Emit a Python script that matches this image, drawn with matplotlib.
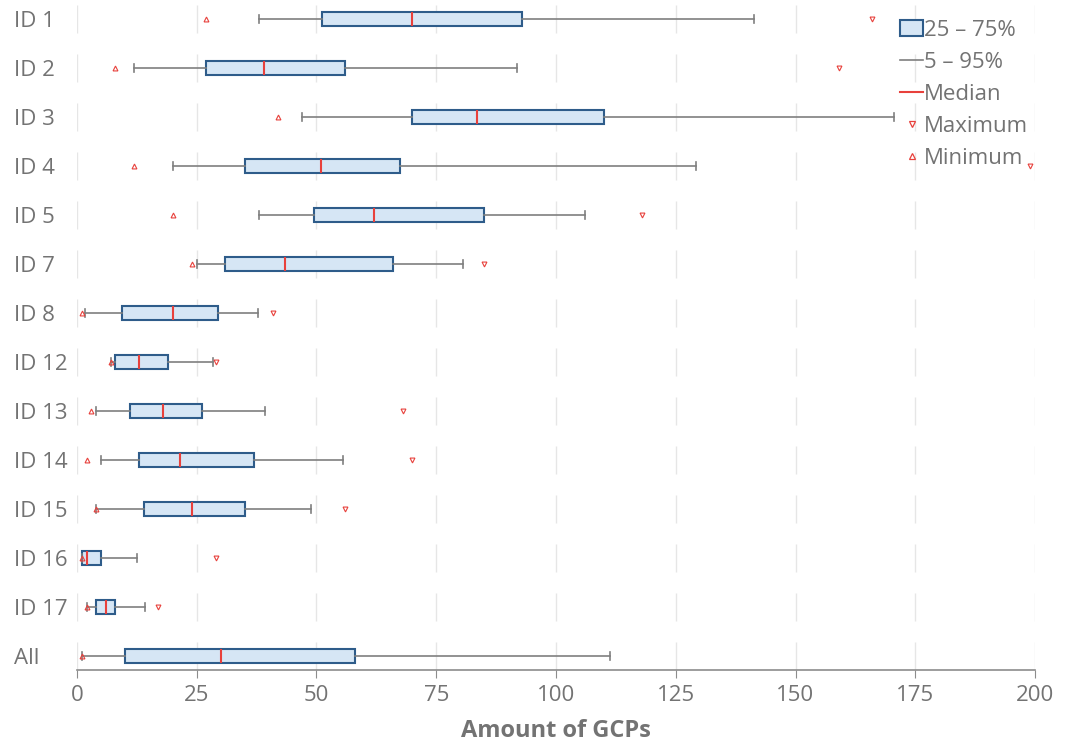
'''GCP counts per ID as horizontal box plots (box 25-75 %, whiskers 5-95 %, min/max markers)'''
import numpy as np
import matplotlib
matplotlib.use('Agg')
import matplotlib.pyplot as plt
from matplotlib.patches import Patch
from matplotlib.lines import Line2D

plt.rcParams['font.family'] = ['Open Sans', 'DejaVu Sans']

# data
labels = ['ID 1', 'ID 2', 'ID 3', 'ID 4', 'ID 5', 'ID 7', 'ID 8', 'ID 12',
          'ID 13', 'ID 14', 'ID 15', 'ID 16', 'ID 17', 'All']
minimum = [27, 8, 42, 12, 20, 24, 1, 7, 3, 2, 4, 1, 2, 1]
p5 = [38, 12, 47, 20, 38, 25, 1.7, 7.2, 4, 5, 4, 1, 2, 1]
q1 = [51.2, 27, 70, 35, 49.5, 31, 9.5, 8, 11, 13, 14, 1, 4, 10]
median = [70, 39, 83.5, 51, 62, 43.5, 20, 13, 18, 21.5, 24, 2, 6, 30]
q3 = [93, 56, 110, 67.5, 85, 66, 29.5, 19, 26, 37, 35, 5, 8, 58]
p95 = [141.3, 91.8, 170.6, 129.2, 106, 80.5, 37.7, 28.4, 39.2, 55.6, 48.8, 12.5, 14.2, 111.3]
# nan = maximum lies outside the plotted range
maximum = [166, 159, np.nan, 199, 118, 85, 41, 29, 68, 70, 56, 29, 17, np.nan]

grey = '#737373'
box_face = '#d6e6f5'
box_edge = '#2e5c8a'
whisk = '#7f7f7f'
red = '#e8413c'

pos = np.arange(len(labels))

stats = []
for i in range(len(labels)):
    stats.append(dict(label=labels[i], med=median[i], q1=q1[i], q3=q3[i],
                      whislo=p5[i], whishi=p95[i], fliers=[]))

fig = plt.figure(figsize=(10.75, 7.43), dpi=100)
ax = fig.add_axes([0.0716, 0.0982, 0.8912, 0.8964])

# grid drawn as short segments per row
xticks = np.arange(0, 201, 25)
for x in xticks:
    ax.vlines(np.full(len(pos), x), pos - 0.29, pos + 0.29, color='#e6e6e6', lw=1, zorder=0)

ax.bxp(stats, positions=pos, orientation='horizontal', widths=0.29, capwidths=0.17,
       patch_artist=True, showfliers=False,
       boxprops=dict(facecolor=box_face, edgecolor=box_edge, linewidth=1.5),
       medianprops=dict(color=red, linewidth=1.5),
       whiskerprops=dict(color=whisk, linewidth=1.2),
       capprops=dict(color=whisk, linewidth=1.2), zorder=3)

ax.plot(minimum, pos, linestyle='none', marker='^', ms=3.5, mfc='none', mec=red, mew=0.8, zorder=4)
ax.plot(maximum, pos, linestyle='none', marker='v', ms=3.5, mfc='none', mec=red, mew=0.8, zorder=4)

ax.set_xlim(0, 200)
ax.set_ylim(13.29, -0.31)
ax.set_xticks(xticks)
ax.set_yticks(pos)
ax.set_yticklabels(labels)
ax.tick_params(axis='y', length=0, labelsize=16, labelcolor=grey, pad=45)
for t in ax.get_yticklabels():
    t.set_horizontalalignment('left')
ax.tick_params(axis='x', length=6, color='#8c8c8c', labelsize=16, labelcolor=grey, pad=5)

for s in ['top', 'right', 'left']:
    ax.spines[s].set_visible(False)
ax.spines['bottom'].set_color('#8c8c8c')
ax.spines['bottom'].set_linewidth(1.2)

ax.set_xlabel('Amount of GCPs', fontsize=17, fontweight='bold', color=grey, labelpad=9)

handles = [
    Patch(facecolor=box_face, edgecolor=box_edge, linewidth=1.5),
    Line2D([], [], color=whisk, lw=1.2),
    Line2D([], [], color=red, lw=1.5),
    Line2D([], [], linestyle='none', marker='v', ms=5, mfc='none', mec=red, mew=0.9),
    Line2D([], [], linestyle='none', marker='^', ms=5, mfc='none', mec=red, mew=0.9),
]
names = ['25 – 75%', '5 – 95%', 'Median', 'Maximum', 'Minimum']
leg = ax.legend(handles, names, loc='upper left', bbox_to_anchor=(0.859, 0.976),
                frameon=False, fontsize=16, handlelength=1.05, handleheight=0.75,
                handletextpad=0.05, labelspacing=0.5, borderpad=0, borderaxespad=0)
for t in leg.get_texts():
    t.set_color(grey)

plt.savefig('out.png', dpi=100)
